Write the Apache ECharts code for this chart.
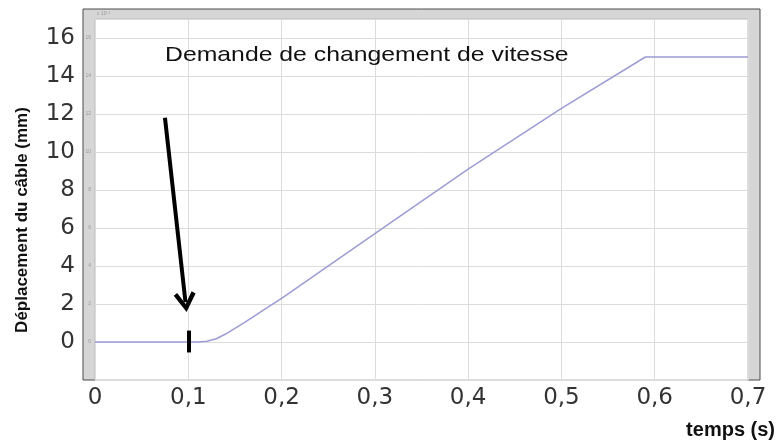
<!DOCTYPE html>
<html>
<head>
<meta charset="utf-8">
<script src="https://cdn.jsdelivr.net/npm/echarts@6/dist/echarts.min.js"></script>
<style>
  html, body { margin: 0; padding: 0; background: #fff; }
  #chart { width: 778px; height: 441px; }
</style>
</head>
<body>
<div id="chart"></div>
<script>
// temps (s) et déplacement du câble (mm)
var timeS   = [0, 0.11, 0.12, 0.13, 0.14, 0.15, 0.16, 0.17, 0.18, 0.19, 0.2, 0.3, 0.4, 0.5, 0.59, 0.7];
var cableMm = [0, 0, 0.04, 0.17, 0.42, 0.72, 1.02, 1.34, 1.66, 1.98, 2.3, 5.7, 9.1, 12.3, 15.0, 15.0];

// annotations
var noteText = 'Demande de changement de vitesse';
var arrowFrom = [0.075, 11.8];
var arrowTo = [0.097, 2.1];
var markerX = 0.1;
var markerSpan = [-0.55, 0.6];

var seriesData = timeS.map(function (t, i) { return [t, cableMm[i]]; });

function keepEven(v) {
    return (v >= 0 && v <= 16 && v % 2 === 0) ? String(v) : '';
}

var chart = echarts.init(document.getElementById('chart'));
var option = {
    backgroundColor: '#fff',
    animation: false,
    grid: {
        left: 95, right: 30, top: 19, bottom: 61,
        show: true,
        backgroundColor: '#fff',
        borderColor: '#bdbdbd',
        borderWidth: 1
    },
    xAxis: {
        type: 'value',
        min: 0, max: 0.7, interval: 0.1,
        axisLine: { show: false },
        axisTick: { show: false },
        splitLine: { lineStyle: { color: '#dcdcdc', width: 1 } },
        axisLabel: {
            margin: 7,
            fontFamily: 'DejaVu Sans',
            fontSize: 23,
            color: '#333',
            formatter: function (v) {
                var r = Math.round(v * 10) / 10;
                return r === 0 ? '0' : r.toFixed(1).replace('.', ',');
            }
        }
    },
    yAxis: [{
        type: 'value',
        min: -2, max: 17, interval: 2,
        axisLine: { show: false },
        axisTick: { show: false },
        splitLine: { lineStyle: { color: '#dcdcdc', width: 1 } },
        axisLabel: {
            margin: 20,
            fontFamily: 'DejaVu Sans',
            fontSize: 23,
            color: '#333',
            formatter: keepEven
        }
    }, {
        type: 'value',
        position: 'left',
        min: -2, max: 17, interval: 2,
        axisLine: { show: false },
        axisTick: { show: false },
        splitLine: { show: false },
        axisLabel: { margin: 4, fontSize: 5, color: '#999', formatter: keepEven }
    }],
    graphic: [{
        type: 'rect',
        z: -10,
        shape: { x: 83, y: 9, width: 677, height: 371 },
        style: { fill: '#d6d6d6', stroke: '#4a4a4a', lineWidth: 1 }
    }, {
        type: 'text',
        left: 97, top: 11,
        style: { text: 'x 10⁻³', fontSize: 5, fill: '#999' }
    }, {
        type: 'text',
        z: 100,
        x: 165, y: 55,
        scaleX: 1.18,
        style: {
            text: noteText,
            fontFamily: 'Liberation Sans',
            fontSize: 21,
            fill: '#111',
            verticalAlign: 'middle'
        }
    }, {
        type: 'text',
        z: 100,
        x: 22, y: 220,
        rotation: Math.PI / 2,
        style: {
            text: 'Déplacement du câble (mm)',
            fontFamily: 'Liberation Sans',
            fontWeight: 'bold',
            fontSize: 17,
            fill: '#111',
            align: 'center',
            verticalAlign: 'middle'
        }
    }, {
        type: 'text',
        z: 100,
        x: 775, y: 430,
        style: {
            text: 'temps (s)',
            fontFamily: 'Liberation Sans',
            fontWeight: 'bold',
            fontSize: 20,
            fill: '#111',
            align: 'right',
            verticalAlign: 'middle'
        }
    }],
    series: [{
        type: 'line',
        data: seriesData,
        showSymbol: false,
        symbol: 'none',
        lineStyle: { color: '#9d9cd4', width: 1.5 },
        markLine: {
            silent: true,
            label: { show: false },
            data: [
                [{
                    coord: arrowFrom, symbol: 'none',
                    lineStyle: { color: '#000', width: 4, type: 'solid' }
                }, {
                    coord: arrowTo,
                    symbol: 'path://M5,0 L10,8.6 L8.3,9.8 L5,4 L1.7,9.8 L0,8.6 Z',
                    symbolSize: [22, 20]
                }],
                [{
                    coord: [markerX, markerSpan[0]], symbol: 'none',
                    lineStyle: { color: '#000', width: 4, type: 'solid' }
                }, {
                    coord: [markerX, markerSpan[1]], symbol: 'none'
                }]
            ]
        }
    }]
};
chart.setOption(option);
</script>
</body>
</html>
